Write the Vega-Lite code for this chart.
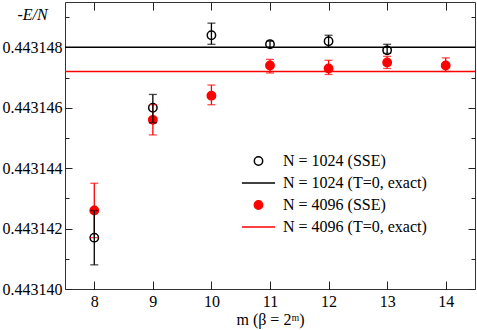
{
  "$schema": "https://vega.github.io/schema/vega-lite/v6.json",
  "width": 410,
  "height": 287,
  "autosize": {"type": "none"},
  "padding": {"left": 65, "top": 2, "right": 2, "bottom": 41},
  "config": {
    "view": {"stroke": "#333", "strokeWidth": 1},
    "font": "Times New Roman, Liberation Serif, serif",
    "axis": {
      "labelFont": "Times New Roman, Liberation Serif, serif", "labelFontSize": 16, "labelColor": "#000",
      "tickColor": "#222", "tickWidth": 1, "domain": false, "grid": false,
      "titleFont": "Times New Roman, Liberation Serif, serif", "titleFontSize": 16, "titleColor": "#000", "titleFontWeight": "normal"
    },
    "legend": {"labelFont": "Times New Roman, Liberation Serif, serif"}
  },
  "datasets": {
    "sse": [
      {"m": 8, "series": "4096", "label": "N = 4096 (SSE)", "v": 0.4431426, "lo": 0.4431417, "hi": 0.4431435},
      {"m": 9, "series": "4096", "label": "N = 4096 (SSE)", "v": 0.4431456, "lo": 0.4431451, "hi": 0.4431461},
      {"m": 10, "series": "4096", "label": "N = 4096 (SSE)", "v": 0.4431464, "lo": 0.4431461, "hi": 0.44314675},
      {"m": 11, "series": "4096", "label": "N = 4096 (SSE)", "v": 0.4431474, "lo": 0.44314715, "hi": 0.4431476},
      {"m": 12, "series": "4096", "label": "N = 4096 (SSE)", "v": 0.4431473, "lo": 0.4431471, "hi": 0.44314757},
      {"m": 13, "series": "4096", "label": "N = 4096 (SSE)", "v": 0.4431475, "lo": 0.4431473, "hi": 0.4431477},
      {"m": 14, "series": "4096", "label": "N = 4096 (SSE)", "v": 0.4431474, "lo": 0.4431472, "hi": 0.44314765},
      {"m": 8, "series": "1024", "label": "N = 1024 (SSE)", "v": 0.4431417, "lo": 0.4431408, "hi": 0.4431426},
      {"m": 9, "series": "1024", "label": "N = 1024 (SSE)", "v": 0.443146, "lo": 0.4431455, "hi": 0.44314644},
      {"m": 10, "series": "1024", "label": "N = 1024 (SSE)", "v": 0.4431484, "lo": 0.4431481, "hi": 0.4431488},
      {"m": 11, "series": "1024", "label": "N = 1024 (SSE)", "v": 0.4431481, "lo": 0.443148, "hi": 0.4431482},
      {"m": 12, "series": "1024", "label": "N = 1024 (SSE)", "v": 0.4431482, "lo": 0.443148, "hi": 0.4431484},
      {"m": 13, "series": "1024", "label": "N = 1024 (SSE)", "v": 0.4431479, "lo": 0.4431478, "hi": 0.4431481}
    ],
    "exact": [
      {"series": "1024", "label": "N = 1024 (T=0, exact)", "v": 0.443148},
      {"series": "4096", "label": "N = 4096 (T=0, exact)", "v": 0.4431472}
    ]
  },
  "layer": [
    {
      "data": {"name": "exact"},
      "mark": {"type": "rule", "strokeWidth": 1.5},
      "encoding": {
        "y": {"field": "v", "type": "quantitative", "scale": {"domain": [0.44314, 0.4431495], "nice": false, "zero": false}, "axis": null},
        "color": {"field": "series", "type": "nominal", "scale": {"domain": ["1024", "4096"], "range": ["#000", "#f00"]}, "legend": null}
      }
    },
    {
      "data": {"name": "sse"},
      "mark": {"type": "point", "strokeWidth": 1.5, "filled": true, "opacity": 1},
      "encoding": {
        "x": {"field": "m", "type": "quantitative", "scale": {"domain": [7.5, 14.5], "nice": false, "zero": false},
          "axis": {"orient": "top", "values": [8, 9, 10, 11, 12, 13, 14], "tickSize": -8, "labels": false, "title": null}},
        "y": {"field": "v", "type": "quantitative", "scale": {"domain": [0.44314, 0.4431495], "nice": false, "zero": false},
          "axis": {"orient": "right", "values": [0.44314, 0.443141, 0.443142, 0.443143, 0.443144, 0.443145, 0.443146, 0.443147, 0.443148, 0.443149],
            "tickSize": {"condition": {"test": "round(datum.value*1e6)%2==0", "value": -7}, "value": -4}, "labels": false, "title": null}},
        "stroke": {"field": "label", "type": "nominal",
          "scale": {"domain": ["N = 1024 (SSE)", "N = 1024 (T=0, exact)", "N = 4096 (SSE)", "N = 4096 (T=0, exact)"], "range": ["#000", "#000", "#f00", "#f00"]},
          "legend": {"title": null, "orient": "none", "legendX": 176, "legendY": 151, "symbolStrokeWidth": 1.5,
            "labelFontSize": 16, "labelColor": "#000", "labelOffset": 7, "rowPadding": 6, "clipHeight": 16}},
        "fill": {"field": "label", "type": "nominal",
          "scale": {"domain": ["N = 1024 (SSE)", "N = 1024 (T=0, exact)", "N = 4096 (SSE)", "N = 4096 (T=0, exact)"], "range": ["transparent", "transparent", "#f00", "transparent"]}},
        "shape": {"field": "label", "type": "nominal",
          "scale": {"domain": ["N = 1024 (SSE)", "N = 1024 (T=0, exact)", "N = 4096 (SSE)", "N = 4096 (T=0, exact)"], "range": ["circle", "stroke", "circle", "stroke"]}},
        "size": {"field": "label", "type": "nominal",
          "scale": {"type": "ordinal", "domain": ["N = 1024 (SSE)", "N = 1024 (T=0, exact)", "N = 4096 (SSE)", "N = 4096 (T=0, exact)"], "range": [70, 1100, 70, 1100]}}
      }
    },
    {
      "data": {"name": "sse"},
      "mark": {"type": "errorbar", "ticks": {"size": 8}, "thickness": 1.3},
      "encoding": {
        "x": {"field": "m", "type": "quantitative", "scale": {"domain": [7.5, 14.5], "nice": false, "zero": false},
          "axis": {"orient": "bottom", "values": [8, 9, 10, 11, 12, 13, 14], "format": "d", "tickSize": -8, "labelPadding": 12,
            "title": "m  (β = 2ᵐ)", "titlePadding": 2}},
        "y": {"field": "lo", "type": "quantitative", "scale": {"domain": [0.44314, 0.4431495], "nice": false, "zero": false},
          "axis": {"orient": "left", "values": [0.44314, 0.443141, 0.443142, 0.443143, 0.443144, 0.443145, 0.443146, 0.443147, 0.443148, 0.443149],
            "labelExpr": "round(datum.value*1e6)%2==0 ? format(datum.value, '.6f') : ''",
            "tickSize": {"condition": {"test": "round(datum.value*1e6)%2==0", "value": -7}, "value": -4},
            "labelPadding": 10, "title": "-E/N", "titleAngle": 0, "titleFontStyle": "italic", "titleAlign": "left", "titleBaseline": "middle",
            "titleX": -48, "titleY": 12}},
        "y2": {"field": "hi"},
        "color": {"field": "series", "type": "nominal", "scale": {"domain": ["1024", "4096"], "range": ["#000", "#f00"]}, "legend": null}
      }
    }
  ],
  "resolve": {"axis": {"x": "independent", "y": "independent"}}
}
